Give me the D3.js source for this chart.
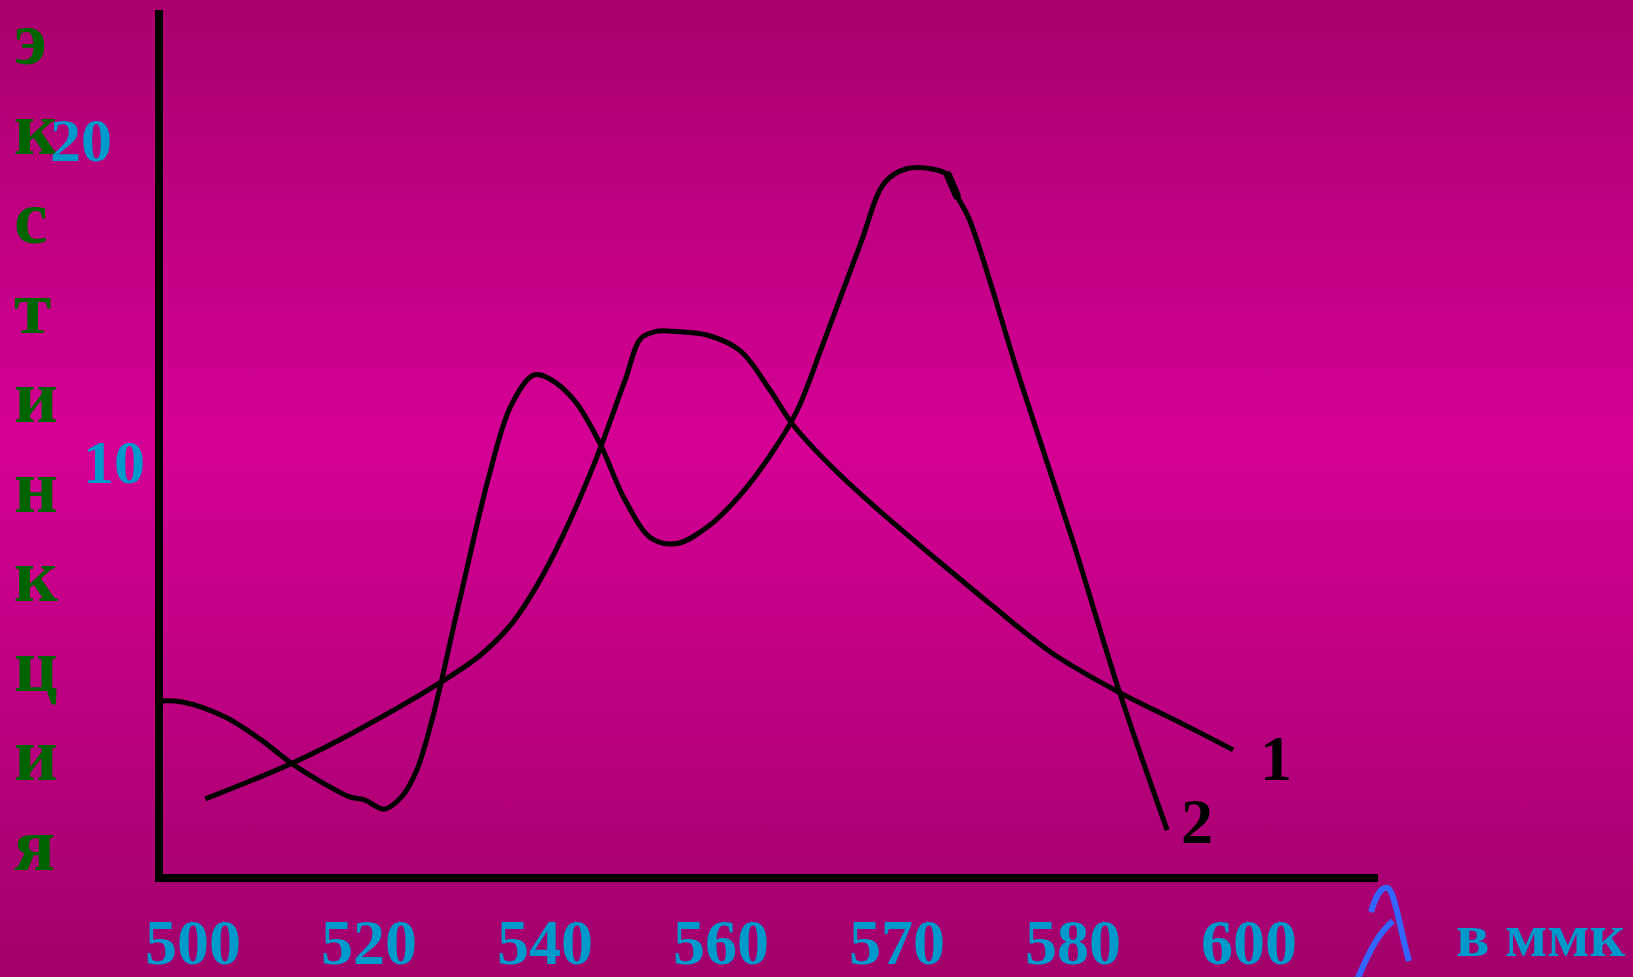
<!DOCTYPE html>
<html><head><meta charset="utf-8">
<script src="https://cdn.jsdelivr.net/npm/d3@7"></script>
<style>html,body{margin:0;padding:0;overflow:hidden;background:#B0006F}</style>
</head><body>
<svg id="chart" width="1633" height="977"></svg>
<script>
// ---- data ----
const xTicks = [500, 520, 540, 560, 570, 580, 600];
const yTicks = [20, 10];
const yTitleLetters = ["э","к","с","т","и","н","к","ц","и","я"];
const unitLabel = "в ммк";
// curve 1: wavelength (nm), extinction
const curve1Wave = [501.4,511.2,518.3,527.8,532.5,536.1,539.1,542.0,545.6,549.1,550.9,552.7,554.4,558.6,561.1,562.8,564.1,566.4,569.3,572.3,575.3,578.8,585.3,591.8,598.2];
const curve1Ext  = [-0.43,0.67,1.64,3.13,4.00,4.97,6.20,7.72,9.98,12.57,13.87,14.09,14.09,13.96,13.48,12.25,11.18,9.82,8.37,6.98,5.62,4.10,2.87,1.99,1.09];
// curve 2
const curve2Wave = [496.1,498.8,503.6,507.7,511.2,514.8,517.8,519.5,521.7,523.7,525.4,527.2,530.2,533.7,536.1,538.7,540.6,543.4,546.2,549.1,552.1,555.0,558.6,561.1,562.8,564.3,565.8,567.9,569.3,570.5,572.0,572.9,573.4,574.1,577.0,580.0,585.3,590.7];
const curve2Ext  = [2.61,2.58,2.12,1.41,0.67,0.06,-0.37,-0.46,-0.75,-0.37,0.44,2.06,5.62,9.66,11.76,12.73,12.60,11.92,10.63,8.85,7.66,7.50,8.04,9.01,10.24,11.60,13.70,16.77,18.71,19.13,19.13,18.94,18.30,17.58,12.57,7.56,2.87,-1.40];
const curveNames = ["1","2"];

// ---- drawing ----
const svg = d3.select("#chart");
const W = 1633, H = 977;
const defs = svg.append("defs");
const grad = defs.append("linearGradient").attr("id","bg").attr("x1",0).attr("y1",0).attr("x2",0).attr("y2",1);
grad.append("stop").attr("offset","0%").attr("stop-color","#A9006E");
grad.append("stop").attr("offset","45%").attr("stop-color","#D50095");
grad.append("stop").attr("offset","100%").attr("stop-color","#A2006B");
svg.append("rect").attr("width",W).attr("height",H).attr("fill","url(#bg)");

const x = d3.scaleLinear().domain(xTicks).range(xTicks.map((d,i)=>193 + 176*i));
const y = d3.scaleLinear().domain([0,20]).range([785,141]);

const serif = "'Liberation Serif','Times New Roman',serif";

// axes lines
svg.append("line").attr("x1",159).attr("x2",159).attr("y1",10).attr("y2",882)
  .attr("stroke","#000").attr("stroke-width",8);
svg.append("line").attr("x1",155).attr("x2",1378).attr("y1",878).attr("y2",878)
  .attr("stroke","#000").attr("stroke-width",8);

// y title letters
svg.append("g").selectAll("text").data(yTitleLetters).join("text")
  .attr("x",14).attr("y",(d,i)=>64 + i*89.5)
  .attr("font-family",serif).attr("font-weight","bold").attr("font-size",76)
  .attr("fill","#006400").text(d=>d);

// y tick labels
const yDx = {20:81, 10:114};
svg.append("g").selectAll("text").data(yTicks).join("text")
  .attr("x",d=>yDx[d]).attr("y",d=>y(d)).attr("dy","0.33em")
  .attr("text-anchor","middle")
  .attr("font-family",serif).attr("font-weight","bold").attr("font-size",62)
  .attr("fill","#0099CC").text(d=>d);

// x tick labels
svg.append("g").selectAll("text").data(xTicks).join("text")
  .attr("x",d=>x(d)).attr("y",964).attr("text-anchor","middle")
  .attr("font-family",serif).attr("font-weight","bold").attr("font-size",64)
  .attr("fill","#0099CC").text(d=>d);

// lambda symbol
svg.append("path")
  .attr("d","M1371,912 C1376,896 1381,886 1388,888 C1395,892 1400,930 1409,961 M1393,921 C1380,932 1372,945 1357,980")
  .attr("fill","none").attr("stroke","#3366FF").attr("stroke-width",6);
svg.append("text").attr("x",1456).attr("y",956)
  .attr("font-family",serif).attr("font-weight","bold").attr("font-size",62)
  .attr("fill","#0099CC").text(unitLabel);

// curves
const line = d3.line().x(d=>x(d[0])).y(d=>y(d[1])).curve(d3.curveCatmullRom.alpha(0.5));
const c1 = curve1Wave.map((w,i)=>[w,curve1Ext[i]]);
const c2 = curve2Wave.map((w,i)=>[w,curve2Ext[i]]);
svg.append("path").attr("d",line(c1)).attr("fill","none").attr("stroke","#000").attr("stroke-width",5).attr("stroke-linejoin","round");
svg.append("path").attr("d",line(c2)).attr("fill","none").attr("stroke","#000").attr("stroke-width",5).attr("stroke-linejoin","round");
// small blob on curve 2 at its peak shoulder
svg.append("path").attr("d",d3.line().x(d=>x(d[0])).y(d=>y(d[1]))(c2.filter(d=>d[0]>=572.9 && d[0]<=573.4)))
  .attr("fill","none").attr("stroke","#000").attr("stroke-width",8).attr("stroke-linecap","round");

// curve labels
svg.append("text").attr("x",1276).attr("y",780).attr("text-anchor","middle")
  .attr("font-family",serif).attr("font-weight","bold").attr("font-size",64).attr("fill","#000").text(curveNames[0]);
svg.append("text").attr("x",1197).attr("y",843).attr("text-anchor","middle")
  .attr("font-family",serif).attr("font-weight","bold").attr("font-size",64).attr("fill","#000").text(curveNames[1]);
</script>
</body></html>
